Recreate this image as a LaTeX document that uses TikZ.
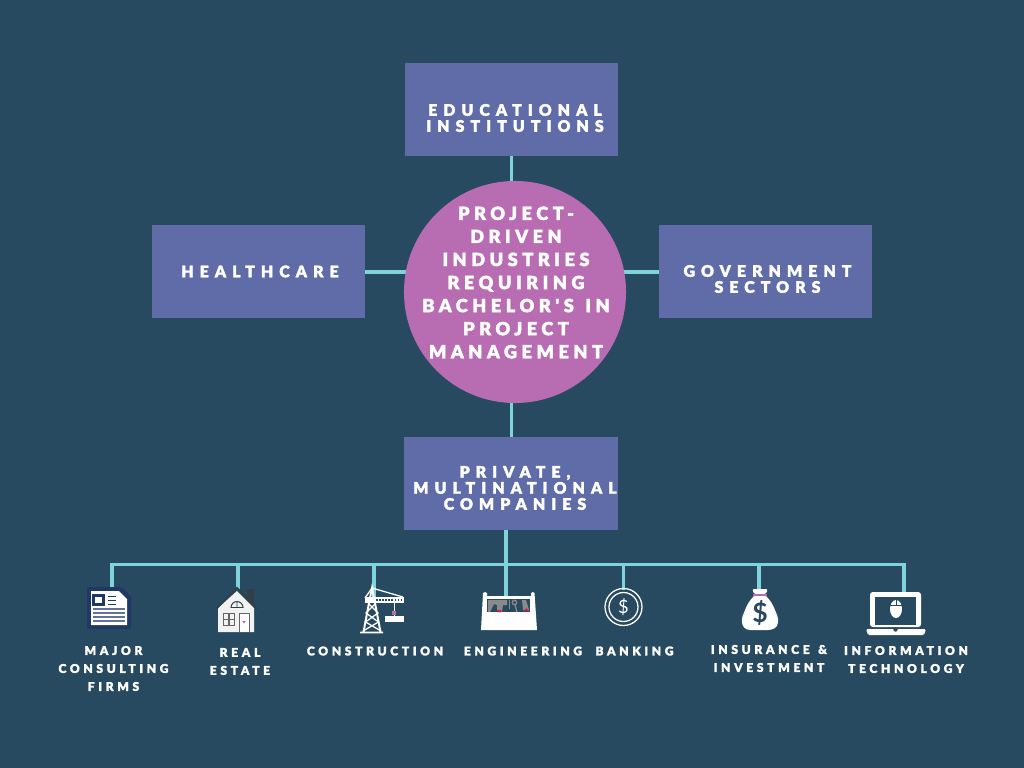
\documentclass[tikz,border=0pt]{standalone}
\usepackage{fontspec}
\setmainfont{Lato}
\newfontfamily\capsfont[LetterSpace=38, FakeBold=2]{Lato Black}
\newfontfamily\hubfont[LetterSpace=25, FakeBold=2]{Lato Black}
\newfontfamily\tagfont[LetterSpace=30, FakeBold=1.6]{Lato Black}
\usetikzlibrary{positioning}
\definecolor{bgblue}{HTML}{274A61}
\definecolor{boxblue}{HTML}{5F6CA8}
\definecolor{hubpink}{HTML}{B86DB3}
\definecolor{linkcyan}{HTML}{7FD4DC}
\definecolor{docnavy}{HTML}{1F3864}
\definecolor{roofgrey}{HTML}{333F48}
\definecolor{toolgrey}{HTML}{8A8A8A}
\definecolor{toolred}{HTML}{D5174F}
\tikzset{
    diagram/.style={x=0.025cm, y=-0.025cm},
    sector/.style={fill=boxblue, minimum width=5.325cm, minimum height=2.325cm, inner sep=0pt},
    sectortext/.style={align=center, text=white, inner sep=0pt, font=\capsfont\fontsize{11.3}{11.4}\selectfont},
    hub/.style={circle, fill=hubpink, minimum size=5.55cm, inner sep=0pt},
    hubtext/.style={align=center, text=white, inner sep=0pt, font=\hubfont\fontsize{12.9}{16.4}\selectfont},
    tag/.style={align=center, text=white, inner sep=0pt, font=\tagfont\fontsize{8.6}{12.8}\selectfont},
    link/.style={draw=linkcyan, line width=2.2pt},
    icon/.style={fill=white, draw=none},
}
\begin{document}
\begin{tikzpicture}[diagram]
    \fill[bgblue] (0,0) rectangle (1024,768);

    \node[sector] (edu)  at (511.5,109.5) {};
    \node[sector] (health) at (258.5,271.5) {};
    \node[sector] (gov)  at (765.5,271.5) {};
    \node[sector] (priv) at (511,483.5) {};
    \node[sectortext] (tedu)    at (515,118) {EDUCATIONAL\\INSTITUTIONS};
    \node[sectortext] (thealth) at (260,271.5) {HEALTHCARE};
    \node[sectortext] (tgov)    at (767.5,279) {GOVERNMENT\\SECTORS};
    \node[sectortext] (tpriv)   at (515,488) {PRIVATE,\\MULTINATIONAL\\COMPANIES};

    % free ends of the connectors
    \coordinate (bus)   at (506,564.5);
    \coordinate (major) at (112,590);
    \coordinate (real)  at (238,590);
    \coordinate (build) at (374,598);
    \coordinate (engin) at (506,597);
    \coordinate (bank)  at (623.5,590);
    \coordinate (insur) at (759,590);
    \coordinate (tech)  at (904,593);

    \draw[link] (511.5,156) -- (511.5,185);
    \draw[link] (365,272) -- (408,272);
    \draw[link] (622,272) -- (659,272);
    \draw[link] (511.5,400) -- (511.5,437);
    \draw[link] (506,530) -- (bus);
    \draw[link] (bus) -- (engin);
    \draw[link, line join=miter] (bus) -| (major);
    \draw[link, line join=miter] (bus) -| (tech);
    \foreach \drop in {real, build, bank, insur}
        \draw[link] (bus) -| (\drop);

    \node[hub] (hub) at (515,292) {};
    \node[hubtext] (hublabel) at (516,282.5) {PROJECT-\\DRIVEN\\INDUSTRIES\\REQUIRING\\BACHELOR'S\hspace{2pt} IN\\PROJECT\\MANAGEMENT};

    % document
    \fill[docnavy, rounded corners=1.5] (87,587) -- (122,587) -- (131,596) -- (131,629) -- (87,629) -- cycle;
    \fill[white] (91,591) -- (119,591) -- (127,599) -- (127,625) -- (91,625) -- cycle;
    \fill[docnavy] (92,594) rectangle (105,606);
    \fill[white] (95,597) rectangle (102,603);
    \foreach \y in {596,600,604}
        \fill[docnavy] (108,\y) rectangle (116,\y+1.2);
    \foreach \y in {608,612,616,620}
        \fill[docnavy!70!white] (93,\y) rectangle (125,\y+1.5);

    % house
    \fill[roofgrey] (247,589) rectangle (254,604);
    \fill[black!5] (218,608) -- (237,591) -- (254,608) -- (254,632) -- (218,632) -- cycle;
    \draw[roofgrey, line width=1.4pt] (216,609) -- (237,588) -- (257,609);
    \draw[roofgrey, line width=0.7pt] (231,607.5) arc[start angle=180, end angle=360, radius=6] -- cycle (237,601.5) -- (237,607.5);
    \draw[black!60, line width=0.8pt] (223.5,613.5) rectangle (234.5,625.5) (229,613.5) -- (229,625.5) (223.5,619.5) -- (234.5,619.5);
    \fill[white] (239.5,613) rectangle (249.5,632);
    \draw[black!60, line width=0.6pt] (239.5,632) -- (239.5,613) -- (249.5,613) -- (249.5,632);
    \fill[hubpink] (244,623.5) -- (242.3,621.3) -- (244,620.8) -- (245.7,621.3) -- cycle;

    % crane
    \draw[white, line width=1.4pt] (363.5,632) -- (369,603) -- (372,588) -- (375,603) -- (380.5,632) (360,632.5) -- (383,632.5);
    \draw[white, line width=0.9pt] (369,604) -- (378,613) -- (365.5,622) -- (381,631) (375,604) -- (366,613) -- (378.5,622) -- (363,631);
    \draw[white, line width=0.9pt] (372,588) -- (403,597) (372,588) -- (365,598);
    \fill[white] (365,597) rectangle (404,603);
    \draw[bgblue, line width=1.1pt, dash pattern=on 1.2pt off 1pt] (376,600) -- (403,600);
    \draw[white, line width=0.6pt] (394,603) -- (394,616);
    \fill[hubpink] (392.3,611) rectangle (395.7,615);
    \fill[white] (385,616) rectangle (404,622);

    % toolbox
    \fill[icon] (481,630) -- (483,593) -- (485,592) -- (487,593) -- (487,596) -- (531,596) -- (531,593) -- (533,592) -- (534.5,593) -- (537,630) -- cycle;
    \fill[bgblue] (487,599) rectangle (530,612);
    \fill[toolgrey] (488,600) -- (507,600) -- (507,605) -- (503,605) -- (502,612) -- (497,612) -- (497,605) -- (494,604) -- (490,612) -- (488,612) -- cycle;
    \fill[toolgrey] (508.5,600) rectangle (510,609);
    \draw[toolgrey, line width=0.9pt] (514.5,602.5) circle[radius=2.2] (515,605) -- (517,612);
    \fill[toolgrey] (522,600) -- (526,600) -- (529,610) -- (523,610) -- cycle;
    \fill[toolred] (497,610) rectangle (501,612) (524,612) -- (526,608) -- (530,612) -- (528.5,612) -- (526,610) -- (525.5,612) -- cycle;

    % coin
    \draw[white, line width=0.9pt] (623.5,607) circle[radius=18.5] (623.5,607) circle[radius=14.5];
    \node[text=white, font=\fontsize{13}{13}\selectfont, inner sep=0pt] (coin) at (623.5,607) {\$};

    % money bag
    \fill[icon, rounded corners=1.5] (752,589) -- (768,589) -- (766,594) -- (754,594) -- cycle;
    \fill[hubpink] (753,594) rectangle (767,596);
    \fill[icon] (754,596) -- (766,596) .. controls (771,601) and (773,605) .. (775,610) .. controls (776,613) and (779,618) .. (778,622) .. controls (778,628) and (772,630) .. (768,630) -- (750,630) .. controls (745,630) and (742,626) .. (742,622) .. controls (741,618) and (744,613) .. (745,610) .. controls (747,605) and (749,601) .. (754,596) -- cycle;
    \node[text=bgblue, font=\fontsize{19}{19}\selectfont\bfseries, inner sep=0pt] (cash) at (760,613) {\$};

    % laptop
    \fill[icon, rounded corners=2] (870,627) -- (870,592) -- (921,592) -- (921,627) -- cycle;
    \fill[bgblue] (875,597) rectangle (916,625);
    \fill[icon, rounded corners=1] (866,629) -- (926,629) -- (924,635) -- (868,635) -- cycle;
    \fill[bgblue] (895.5,629.5) circle[radius=2.2];
    \fill[icon] (896,609) circle[x radius=6, y radius=9];
    \draw[bgblue, line width=0.5pt] (890,605) -- (902,605) (896,600) -- (896,605);

    \node[tag] (tmajor) at (113.5,668.5) {MAJOR\\CONSULTING\\FIRMS};
    \node[tag] (treal)  at (240,661.5) {REAL\\ESTATE};
    \node[tag] (tbuild) at (375,651) {CONSTRUCTION};
    \node[tag] (tengin) at (523,651) {ENGINEERING};
    \node[tag] (tbank)  at (634.5,651) {BANKING};
    \node[tag] (tinsur) at (769,658.5) {INSURANCE\hspace{1.5pt} \&\\INVESTMENT};
    \node[tag] (ttech)  at (906,659.5) {INFORMATION\\TECHNOLOGY};
\end{tikzpicture}
\end{document}
